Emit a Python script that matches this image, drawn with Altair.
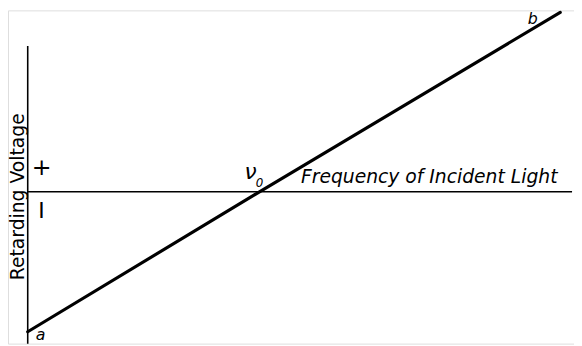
import altair as alt
import pandas as pd

# Photoelectric line a -> nu0 -> b (arbitrary units)
frequency = [0.0, 1.0, 2.298]
voltage = [-1.014, 0.0, 1.30]

# Axis extents
v_axis_freq = [0.0, 0.0]
v_axis_volt = [1.057, -1.10]
h_axis_freq = [0.0, 2.349]
h_axis_volt = [0.0, 0.0]

label_text = ["Retarding Voltage", "+", "I", "ν", "0", "Frequency of Incident Light", "a", "b"]
label_freq = [-0.0170, 0.0596, 0.0596, 0.962, 1.0, 1.179, 0.055, 2.179]
label_volt = [-0.036, 0.171, -0.143, 0.143, 0.064, 0.064, -1.04, 1.25]

xs = alt.Scale(domain=[-0.0851, 2.3574], nice=False, zero=False)
ys = alt.Scale(domain=[-1.10, 1.3143], nice=False, zero=False)

line_df = pd.DataFrame({"f": frequency, "v": voltage})
vax = pd.DataFrame({"f": v_axis_freq, "v": v_axis_volt})
hax = pd.DataFrame({"f": h_axis_freq, "v": h_axis_volt})
lab = pd.DataFrame({"t": label_text, "f": label_freq, "v": label_volt})

X = alt.X("f:Q", scale=xs, axis=None)
Y = alt.Y("v:Q", scale=ys, axis=None)

vline = alt.Chart(vax).mark_line(color="black", strokeWidth=1.6).encode(x=X, y=Y)
hline = alt.Chart(hax).mark_line(color="black", strokeWidth=1.4).encode(x=X, y=Y)
main = alt.Chart(line_df).mark_line(color="black", strokeWidth=3.2, strokeCap="round").encode(x=X, y=Y)

def txt(i, **kw):
    d = lab.iloc[[i]]
    return alt.Chart(d).mark_text(color="black", font="DejaVu Sans", **kw).encode(
        x=X, y=Y, text="t:N")

labels = [
    txt(0, angle=270, fontSize=19, align="center", baseline="alphabetic"),
    txt(1, fontSize=24, align="center", baseline="middle"),
    txt(2, fontSize=22, align="center", baseline="middle"),
    txt(3, fontSize=22, fontStyle="italic", align="center", baseline="middle"),
    txt(4, fontSize=12, fontStyle="italic", align="center", baseline="middle"),
    txt(5, fontSize=19, fontStyle="italic", align="left", baseline="alphabetic"),
    txt(6, fontSize=16, fontStyle="italic", align="center", baseline="middle"),
    txt(7, fontSize=16, fontStyle="italic", align="center", baseline="middle"),
]

chart = alt.layer(vline, hline, main, *labels).properties(
    width=574, height=338, padding=0, autosize=alt.AutoSizeParams(type="none")
).configure_view(stroke=None).configure(background="white")

chart.save("out.html", embed_options={"renderer": "svg", "actions": False})
